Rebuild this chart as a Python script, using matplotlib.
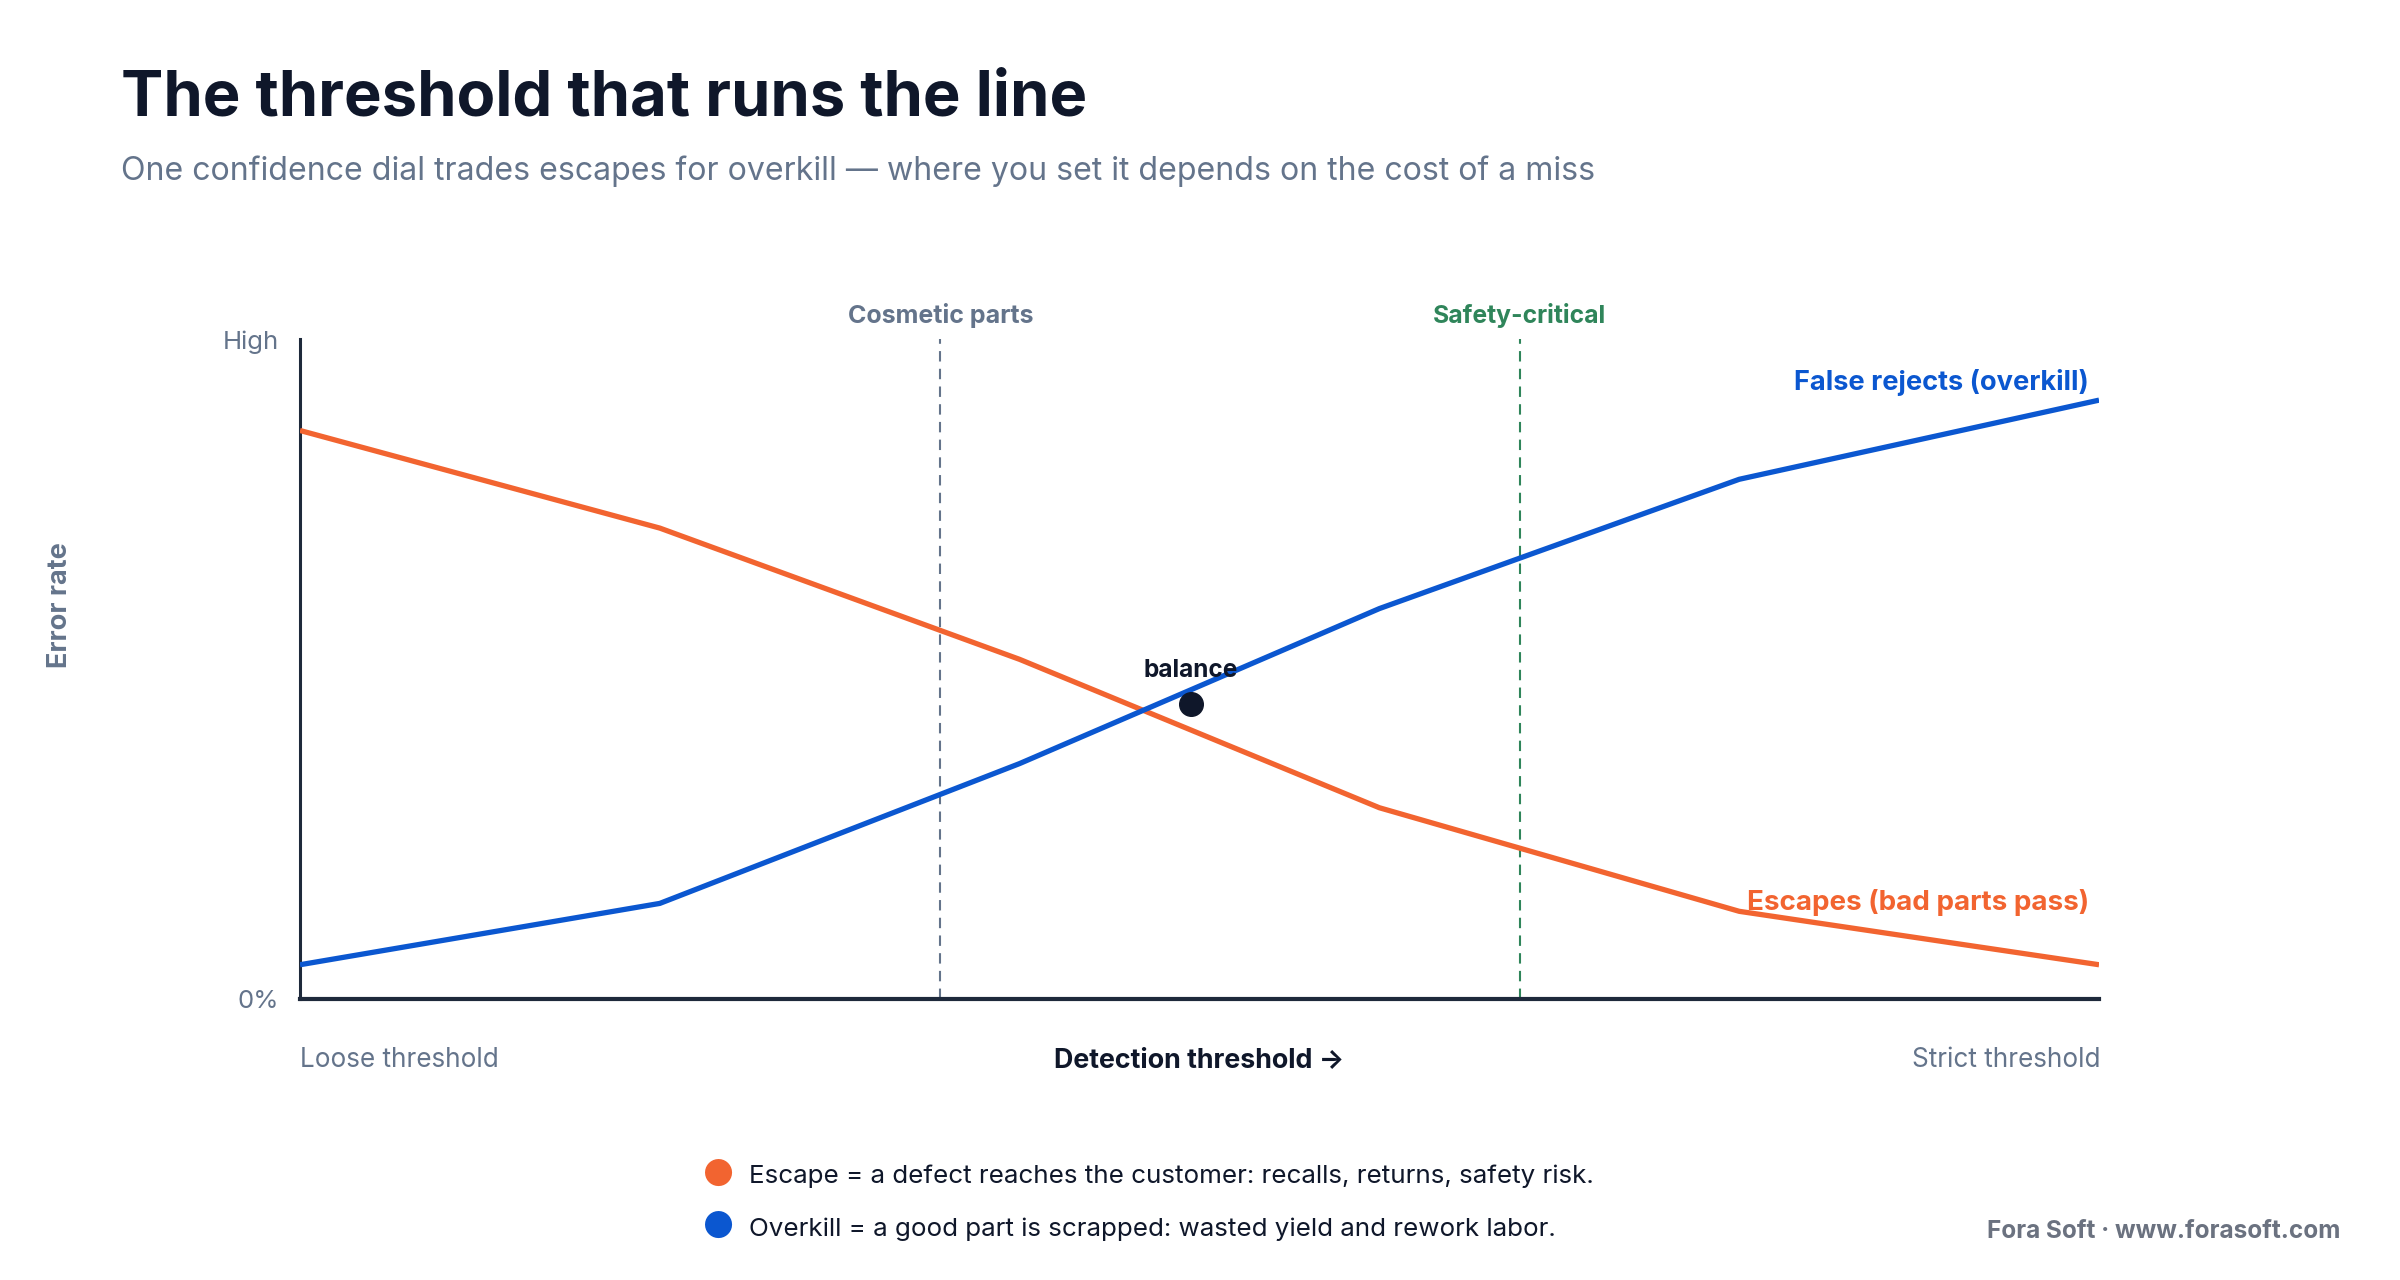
import matplotlib
matplotlib.use('Agg')
import matplotlib.pyplot as plt

plt.rcParams['font.family'] = ['Inter', 'DejaVu Sans']

# 数据
x = [0.0, 0.2, 0.4, 0.6, 0.8, 1.0]
escapes = [0.862, 0.714, 0.515, 0.290, 0.133, 0.052]
overkill = [0.052, 0.145, 0.357, 0.592, 0.788, 0.908]
cosmetic_x = 0.356
safety_x = 0.678
balance_x = 0.495
balance_y = 0.448

ORANGE = '#f26430'
BLUE = '#0b57d0'
DARK = '#0f172a'
GRAY = '#64748b'
GREEN = '#2f855a'

fig = plt.figure(figsize=(24, 12.8), dpi=100)
ax = fig.add_axes([0.125, 0.2195, 0.7496, 0.5153])

ax.plot(x, escapes, color=ORANGE, lw=3.8, solid_capstyle='butt', zorder=3)
ax.plot(x, overkill, color=BLUE, lw=3.8, solid_capstyle='butt', zorder=3)

ax.axvline(cosmetic_x, color=GRAY, lw=1.5, dashes=(5, 3.5), zorder=2)
ax.axvline(safety_x, color=GREEN, lw=1.5, dashes=(5, 3.5), zorder=2)

ax.plot([balance_x], [balance_y], 'o', color=DARK, markersize=17, zorder=4)
ax.text(balance_x, balance_y + 0.032, 'balance', ha='center', va='bottom',
        fontsize=17.5, fontweight='bold', color=DARK, zorder=5)

ax.set_xlim(0, 1)
ax.set_ylim(0, 1)
ax.set_xticks([])
ax.set_yticks([0, 1])
ax.set_yticklabels(['0%', 'High'], fontsize=18.5, color=GRAY)
ax.tick_params(axis='y', length=0, pad=15)
for s in ['top', 'right']:
    ax.spines[s].set_visible(False)
ax.spines['left'].set_color('#1e293b')
ax.spines['left'].set_linewidth(2.2)
ax.spines['bottom'].set_color('#1e293b')
ax.spines['bottom'].set_linewidth(3)

# 阈值标签
ax.text(cosmetic_x, 1.037, 'Cosmetic parts', ha='center', va='center',
        fontsize=18, fontweight='bold', color=GRAY, clip_on=False)
ax.text(safety_x, 1.037, 'Safety-critical', ha='center', va='center',
        fontsize=17.8, fontweight='bold', color=GREEN, clip_on=False)

# 线条标签
ax.text(0.9945, 0.935, 'False rejects (overkill)', ha='right', va='center',
        fontsize=19.6, fontweight='bold', color=BLUE)
ax.text(0.9945, 0.147, 'Escapes (bad parts pass)', ha='right', va='center',
        fontsize=20, fontweight='bold', color=ORANGE)

# x轴标签
ax.text(0, -0.093, 'Loose threshold', ha='left', va='center', fontsize=18.8,
        color=GRAY, transform=ax.transAxes)
ax.text(1.001, -0.093, 'Strict threshold', ha='right', va='center', fontsize=18.8,
        color=GRAY, transform=ax.transAxes)
ax.text(0.5, -0.093, 'Detection threshold \u2192', ha='center', va='center',
        fontsize=19.3, fontweight='bold', color=DARK, transform=ax.transAxes)

fig.text(0.025, 0.527, 'Error rate', rotation=90, ha='center', va='center',
         fontsize=19.5, fontweight='bold', color=GRAY)

# 标题
fig.text(0.0505, 0.946, 'The threshold that runs the line', ha='left', va='top',
         fontsize=45.6, fontweight='bold', color=DARK)
fig.text(0.0505, 0.866, 'One confidence dial trades escapes for overkill \u2014 where you set it depends on the cost of a miss',
         ha='left', va='center', fontsize=23.1, color=GRAY)

# 说明
fig.text(0.2995, 0.081, '\u25cf', ha='center', va='center', fontsize=26, color=ORANGE)
fig.text(0.312, 0.081, 'Escape = a defect reaches the customer: recalls, returns, safety risk.',
         ha='left', va='center', fontsize=18.7, color=DARK)
fig.text(0.2995, 0.040, '\u25cf', ha='center', va='center', fontsize=26, color=BLUE)
fig.text(0.312, 0.040, 'Overkill = a good part is scrapped: wasted yield and rework labor.',
         ha='left', va='center', fontsize=18.7, color=DARK)

fig.text(0.975, 0.038, 'Fora Soft \u00b7 www.forasoft.com', ha='right', va='center',
         fontsize=17.5, fontweight='bold', color='#6b7280')

fig.savefig('out.png', dpi=100, facecolor='white')
